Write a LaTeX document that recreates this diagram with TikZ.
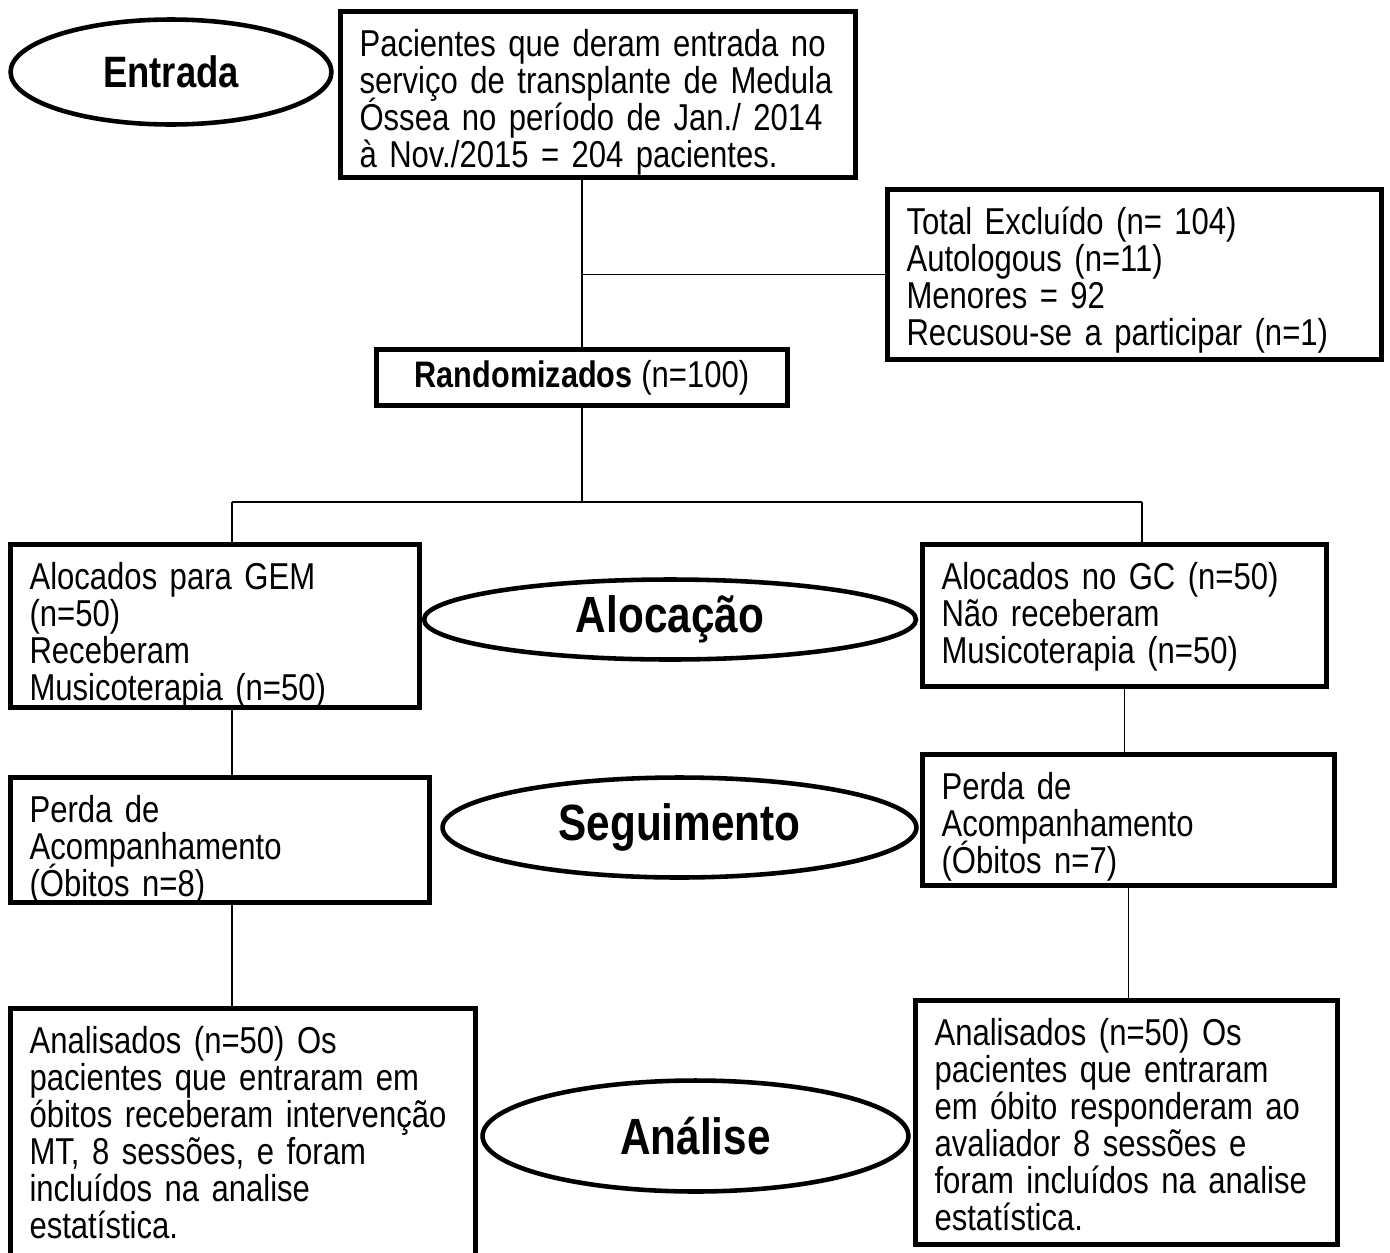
\documentclass[tikz,border=0pt]{standalone}
\usepackage{fontspec}
\setmainfont{Liberation Sans}[FakeStretch=0.83]
\usepackage{tikz}
\usetikzlibrary{shapes,positioning,calc}

\newcommand{\textofont}{\fontsize{21.3}{21}\selectfont\lineskiplimit=-20pt\spaceskip=0.231em\relax\hyphenpenalty=10000}

\begin{document}
\begin{tikzpicture}[x=0.02cm, y=-0.02cm,
    caixa/.style={draw, line width=2.6pt, align=left, inner xsep=0.38cm, inner ysep=0pt, text height=0.9cm, font=\textofont},
    fase/.style={draw, ellipse, line width=2.6pt, inner sep=0pt, font=\bfseries\fontsize{29}{30}\selectfont},
    linha/.style={line width=0.85pt}]
    \useasboundingbox (0,0) rectangle (1390,1252);

    % Entrada
    \node[fase, minimum width=6.42cm, minimum height=2.1cm, font=\bfseries\fontsize{25}{26}\selectfont] (entrada) at (171,72) {Entrada};
    \node[caixa, text width=9.54cm, text depth=2.42cm] (pacientes) at (598,94.5)
        {Pacientes que deram entrada no\\serviço de transplante de Medula\\Óssea no período de Jan./ 2014\\à Nov./2015 = 204 pacientes.};
    \node[caixa, text width=9.12cm, text depth=2.5cm] (excluidos) at (1134.5,274.5)
        {Total Excluído (n= 104)\\Autologous (n=11)\\Menores = 92\\Recusou-se a participar (n=1)};
    \node[draw, line width=2.6pt, inner sep=0pt, font=\textofont, minimum width=8.22cm, minimum height=1.12cm] (random) at (582,377.5)
        {{\bfseries\fontsize{21}{21}\selectfont Randomizados} (n=100)};

    % Alocação
    \coordinate (ramoE) at (232,502);
    \coordinate (ramoD) at (1142,502);
    \node[caixa, text width=7.42cm, text depth=2.36cm] (alocGEM) at (215,626)
        {Alocados para GEM\\(n=50)\\Receberam\\Musicoterapia (n=50)};
    \node[fase, minimum width=9.84cm, minimum height=1.6cm] (alocacao) at (670,619.5) {Alocação};
    \node[caixa, text width=7.32cm, text depth=1.94cm] (alocGC) at (1124.5,615.5)
        {Alocados no GC (n=50)\\Não receberam\\Musicoterapia (n=50)};

    % Seguimento
    \node[caixa, text width=7.62cm, text depth=1.6cm] (perdaGEM) at (220,840)
        {Perda de\\Acompanhamento\\(Óbitos n=8)};
    \node[fase, minimum width=9.48cm, minimum height=2.0cm] (seguimento) at (679.5,827.5) {Seguimento};
    \node[caixa, text width=7.48cm, text depth=1.72cm] (perdaGC) at (1128.5,820)
        {Perda de\\Acompanhamento\\(Óbitos n=7)};

    % Análise
    \node[caixa, text width=8.54cm, text depth=4.08cm] (analGEM) at (243,1133)
        {Analisados (n=50) Os\\pacientes que entraram em\\óbitos receberam intervenção\\MT, 8 sessões, e foram\\incluídos na analise\\estatística.};
    \node[fase, minimum width=8.52cm, minimum height=2.22cm] (analise) at (695.5,1136) {Análise};
    \node[caixa, text width=7.68cm, text depth=3.98cm] (analGC) at (1126.5,1122.5)
        {Analisados (n=50) Os\\pacientes que entraram\\em óbito responderam ao\\avaliador 8 sessões e\\foram incluídos na analise\\estatística.};

    % ligações
    \draw[linha] (pacientes.south -| random.north) -- (random.north);
    \draw[linha] (excluidos.west) -- (excluidos.west -| random.north);
    \draw[linha] (random.south) -- (random.south |- ramoE);
    \draw[linha] (ramoE) -- (ramoD);
    \draw[linha] (ramoE) -- (ramoE |- alocGEM.north);
    \draw[linha] (ramoD) -- (ramoD |- alocGC.north);
    \draw[linha] (ramoE |- alocGEM.south) -- (ramoE |- perdaGEM.north);
    \draw[linha] (ramoE |- perdaGEM.south) -- (ramoE |- analGEM.north);
    \draw[linha] (alocGC.south) -- (alocGC.south |- perdaGC.north);
    \draw[linha] (perdaGC.south) -- (perdaGC.south |- analGC.north);
\end{tikzpicture}
\end{document}
